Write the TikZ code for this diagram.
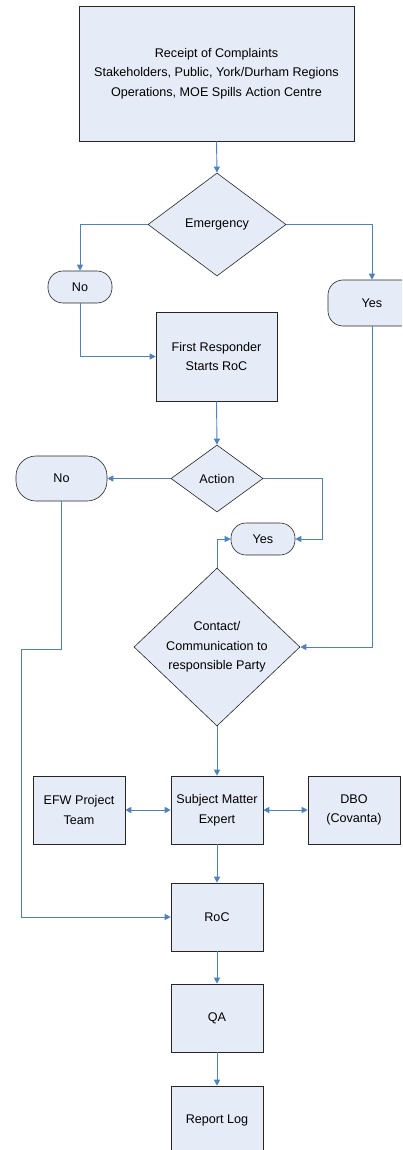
\documentclass[tikz,border=0pt]{standalone}
\usepackage{fontspec}
\setmainfont{Liberation Sans}
\usetikzlibrary{shapes.geometric,arrows.meta}
\definecolor{boxfill}{HTML}{E6ECF7}
\definecolor{linkblue}{HTML}{4F81BD}
\tikzset{
  every node/.style={font=\fontsize{12.6}{19.5}\selectfont, align=center, inner sep=0pt},
  box/.style={draw=black!85, line width=0.6pt, fill=boxfill, rectangle},
  dia/.style={draw=black!85, line width=0.6pt, fill=boxfill, diamond, aspect=1},
  term/.style={draw=black!85, line width=0.6pt, fill=boxfill, rectangle, rounded corners=15pt},
  link/.style={draw=linkblue, line width=0.9pt, -{Triangle[length=6pt,width=6pt]}},
  dlink/.style={draw=linkblue, line width=0.9pt, {Triangle[length=6pt,width=6pt]}-{Triangle[length=6pt,width=6pt]}},
}
\begin{document}
\begin{tikzpicture}[x=1pt,y=-1pt]
\useasboundingbox (0,0) rectangle (402,1150);
\clip (0,0) rectangle (402,1150);
\node[box, minimum width=275pt, minimum height=135pt] (rec) at (216.5,73.5) {Receipt of Complaints\\Stakeholders, Public, York/Durham Regions\\Operations, MOE Spills Action Centre};
\node[dia, minimum width=138pt, minimum height=103pt] (emg) at (217,224.5) {};
\node at (217,224.5) {Emergency};
\node[term, minimum width=64pt, minimum height=32pt] (no1) at (80,287) {No};
\node[term, minimum width=88pt, minimum height=46pt] (yes1) at (372,303) {Yes};
\node[box, minimum width=121pt, minimum height=89pt] (fr) at (216.5,356.5) {First Responder\\Starts RoC};
\node[dia, minimum width=92pt, minimum height=67pt] (act) at (217,478.5) {};
\node at (217,478.5) {Action};
\node[term, minimum width=91pt, minimum height=45pt, rounded corners=20pt] (no2) at (61.5,478.5) {No};
\node[term, minimum width=64pt, minimum height=32pt] (yes2) at (263,539) {Yes};
\node[dia, minimum width=166pt, minimum height=158pt] (con) at (217,647) {};
\node at (217,647) {Contact/\\Communication to\\responsible Party};
\node[box, minimum width=92pt, minimum height=68pt] (sme) at (217,810) {Subject Matter\\Expert};
\node[box, minimum width=92pt, minimum height=68pt] (efw) at (79,810) {EFW Project\\Team};
\node[box, minimum width=92pt, minimum height=68pt] (dbo) at (354,810) {DBO\\(Covanta)};
\node[box, minimum width=92pt, minimum height=68pt] (roc) at (217,917) {RoC};
\node[box, minimum width=92pt, minimum height=68pt] (qa) at (217,1018) {QA};
\node[box, minimum width=92pt, minimum height=68pt] (rep) at (217,1120) {Report Log};

\draw[link] (rec.south) -- (emg.north);
\draw[link] (emg.west) -| (no1.north);
\draw[link] (emg.east) -| (yes1.north);
\draw[link] (no1.south) |- (fr.west);
\draw[link] (fr.south) -- (act.north);
\draw[link] (act.west) -- (no2.east);
\draw[link] (act.east) -- (322,478.5) |- (yes2.east);
\draw[link] (con.north) |- (yes2.west);
\draw[link] (yes1.south) |- (con.east);
\draw[link] (no2.south) -- (61.5,649) -- (21,649) |- (roc.west);
\draw[link] (con.south) -- (sme.north);
\draw[dlink] (efw.east) -- (sme.west);
\draw[dlink] (sme.east) -- (dbo.west);
\draw[link] (sme.south) -- (roc.north);
\draw[link] (roc.south) -- (qa.north);
\draw[link] (qa.south) -- (rep.north);
\end{tikzpicture}
\end{document}
